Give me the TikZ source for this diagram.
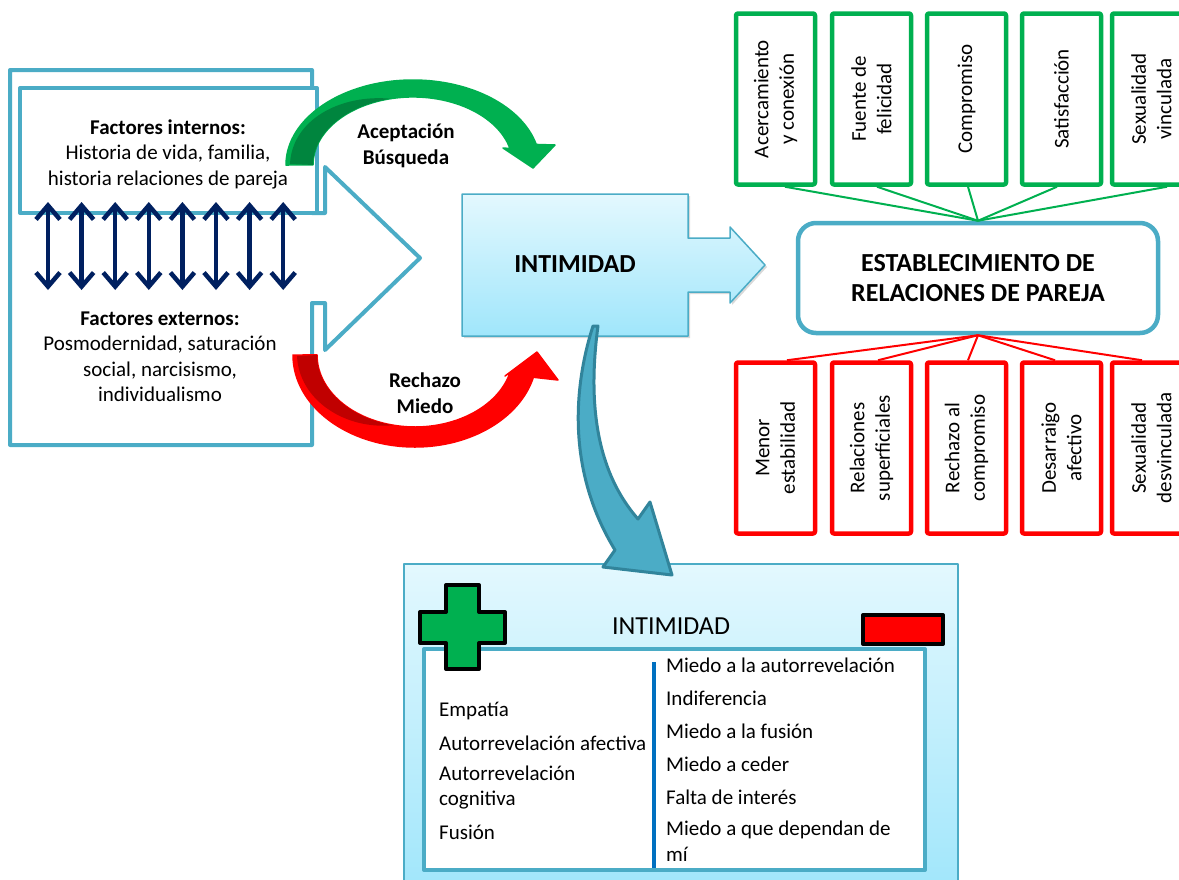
\documentclass[tikz,border=0pt]{standalone}
\usepackage{fontspec}
\setmainfont{Carlito}
\usepackage{tikz}
\usetikzlibrary{arrows.meta,calc,positioning,shadows}

\definecolor{teal5}{HTML}{4BACC6}
\definecolor{tealdk}{HTML}{31849B}
\definecolor{navy}{HTML}{002060}
\definecolor{okgreen}{HTML}{00B050}
\definecolor{dkgreen}{HTML}{00853E}
\definecolor{dkred}{HTML}{C00000}
\definecolor{lineblue}{HTML}{0070C0}
\definecolor{skytop}{HTML}{E3F8FE}
\definecolor{skybot}{HTML}{A0E6FB}

\newcommand{\ftxt}{\fontsize{21}{25.5}\selectfont}
\newcommand{\fbig}{\fontsize{26}{30}\selectfont}

\begin{document}
\begin{tikzpicture}[x=1pt,y=-1pt,line join=round,
  every node/.style={font=\ftxt,inner sep=0pt},
  tealline/.style={draw=teal5,line width=4pt,fill=white},
  gbox/.style={draw=okgreen,line width=4.5pt,fill=white,rounded corners=2pt,
    minimum width=79pt,minimum height=171pt},
  rbox/.style={gbox,draw=red},
  vtext/.style={rotate=90,align=center},
  updown/.style={navy,line width=4.5pt,
    {Straight Barb[length=14pt,width=24pt]}-{Straight Barb[length=14pt,width=24pt]}},
  skyfill/.style={draw=teal5,line width=1.5pt,top color=skytop,bottom color=skybot},
  shadowed/.style={drop shadow={shadow xshift=2pt,shadow yshift=-2pt,opacity=.3}},
]
\useasboundingbox (0,0) rectangle (1179,879);

% the factors block
\path[tealline] (10,70) -- (312,70) -- (312,213) -- (325,213) -- (325,167)
  -- (420,258) -- (325,350) -- (325,303) -- (312,303) -- (312,445) -- (10,445) -- cycle;
\node[tealline,minimum width=297pt,minimum height=125pt] (fin) at (168.5,150.5) {};
\node[align=center] (fint) at (168,154)
  {\textbf{Factores internos:}\\Historia de vida, familia,\\historia relaciones de pareja};
\node[align=center] (fext) at (160,357)
  {\textbf{Factores externos:}\\Posmodernidad, saturación\\social, narcisismo,\\individualismo};

% the arrows between the factors
\foreach \i in {0,...,7}{
  \coordinate (up\i) at (48+33.6*\i,202);
  \coordinate (dn\i) at (48+33.6*\i,290);
  \draw[updown] (up\i) -- (dn\i);
}

% green bend arrow
\path[fill=okgreen,draw=okgreen,line width=1.5pt]
  (286,165) arc[start angle=180,end angle=346,x radius=127,y radius=85]
  -- (555,145) -- (533,168) -- (503,148)
  -- (510,148.5) arc[start angle=346,end angle=180,x radius=100,y radius=68] -- cycle;
\path[fill=dkgreen] (290,164) .. controls (292,120) and (340,94) .. (390.5,98.7)
  arc[start angle=257,end angle=180,x radius=100,y radius=68] -- cycle;

% red bend arrow
\path[fill=red,draw=red,line width=1.5pt]
  (293,355) arc[start angle=180,end angle=14,x radius=122,y radius=92]
  -- (558,380) -- (537,352) -- (505,376)
  -- (510.1,372.4) arc[start angle=14,end angle=180,x radius=98,y radius=72] -- cycle;
\path[fill=dkred] (297,356) .. controls (299,400) and (345,430) .. (393,425.2)
  arc[start angle=103,end angle=180,x radius=98,y radius=72] -- cycle;

\node[font=\ftxt\bfseries,align=center] (acep) at (406,146) {Aceptación\\Búsqueda};
\node[font=\ftxt\bfseries,align=center] (rech) at (425,393) {Rechazo\\Miedo};

% the intimidad block
\path[skyfill,shadowed] (462,194) -- (688,194) -- (688,238) -- (730,238) -- (730,227)
  -- (765,265) -- (730,303) -- (730,292) -- (688,292) -- (688,336) -- (462,336) -- cycle;
\node[font=\fbig\bfseries] (intim) at (575,264) {INTIMIDAD};

% the relationship block
\node[draw=teal5,line width=4.5pt,fill=white,rounded corners=18pt,
  minimum width=360pt,minimum height=110pt,align=center,font=\fbig\bfseries]
  (est) at (978,278) {ESTABLECIMIENTO DE\\RELACIONES DE PAREJA};

% the positive outcomes
\foreach \x/\dx/\t [count=\i] in {775.5/9.5/{Acercamiento\\y conexión},
    871.5/5.5/{Fuente de\\felicidad}, 966.5/1.5/Compromiso,
    1061.5/-4.5/Satisfacción, 1151.5/15.5/{Sexualidad\\vinculada}}{
  \node[gbox] (g\i) at (\x,99) {};
  \node[vtext] (gt\i) at (g\i) {\t};
  \draw[okgreen,line width=2pt] ([xshift=\dx pt]g\i.south) -- (est.north);
}

% the negative outcomes
\foreach \x/\dx/\t [count=\i] in {775.5/11.5/{Menor\\estabilidad},
    871.5/6.5/{Relaciones\\superficiales}, 966.5/1.5/{Rechazo al\\compromiso},
    1061.5/-6.5/{Desarraigo\\afectivo}, 1151.5/-9.5/{Sexualidad\\desvinculada}}{
  \node[rbox] (r\i) at (\x,448) {};
  \node[vtext] (rt\i) at (r\i) {\t};
  \draw[red,line width=2pt] ([xshift=\dx pt]r\i.north) -- (est.south);
}

% the bottom panel
\node[skyfill,minimum width=554pt,minimum height=330pt,anchor=north west]
  (panel) at (403,563) {};
\node[tealline,minimum width=501pt,minimum height=221pt,anchor=north west]
  (list) at (422,647) {};
\draw[lineblue,line width=4pt] (654,662) -- (654,868);
\node[font=\fbig] (ptitle) at (671,626) {INTIMIDAD};

% plus and minus
\path[draw=black,line width=4pt,fill=okgreen] (446,585) -- (479,585) -- (479,612)
  -- (505,612) -- (505,643) -- (479,643) -- (479,669) -- (446,669) -- (446,643)
  -- (420,643) -- (420,612) -- (446,612) -- cycle;
\node[draw=black,line width=4pt,fill=red,minimum width=80pt,minimum height=29pt]
  (minus) at (903,629.5) {};

% teal bend arrow
\path[draw=tealdk,line width=3pt,fill=teal5] (593,326) .. controls (574,385) and (566,470) .. (615,550)
  -- (603,567) -- (672,575) -- (650,502) -- (638,519)
  .. controls (595,470) and (588,400) .. (598,326) -- cycle;

% the lists
\foreach \t/\y [count=\i] in {Empatía/711, Autorrevelación afectiva/743,
    {Autorrevelación\\cognitiva}/787.5, Fusión/832}
  \node[anchor=west,align=left] (pos\i) at (439,\y) {\t};
\foreach \t/\y [count=\i] in {Miedo a la autorrevelación/665, Indiferencia/698,
    Miedo a la fusión/731, Miedo a ceder/764, Falta de interés/797,
    {Miedo a que dependan de\\mí}/841}
  \node[anchor=west,align=left] (neg\i) at (666,\y) {\t};
\end{tikzpicture}
\end{document}
